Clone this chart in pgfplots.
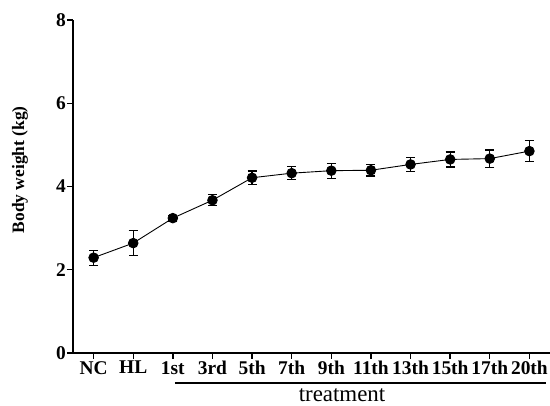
\documentclass[border=0pt]{standalone}
\usepackage{pgfplots}
\pgfplotsset{compat=1.18}
\usepackage{fontspec}
\setmainfont{Liberation Serif}
\begin{document}
\begin{tikzpicture}
\begin{axis}[
  scale only axis,
  width=477bp, height=333bp,
  xmin=-0.52, xmax=11.52,
  ymin=0, ymax=8,
  axis x line*=bottom, axis y line*=left,
  axis line style={line width=1.4bp, -},
  clip=false,
  xtick={0,1,2,3,4,5,6,7,8,9,10,11},
  xticklabels={NC,HL,1st,3rd,5th,7th,9th,11th,13th,15th,17th,20th},
  ytick={0,2,4,6,8},
  tick align=outside,
  major tick length=6bp,
  tick style={line width=1.4bp, black},
  /pgf/number format/assume math mode=true,
  ticklabel style={font=\fontsize{19.5}{22}\selectfont\bfseries},
  xticklabel style={inner sep=1bp, yshift=-1bp},
  yticklabel style={inner sep=1bp},
  xlabel={treatment},
  xlabel style={font=\fontsize{23}{25}\selectfont, inner sep=0pt, at={(axis description cs:0.564,0)}, anchor=base, yshift=-49bp},
  ylabel={Body weight (kg)},
  ylabel style={font=\fontsize{17.5}{20}\selectfont\bfseries, at={(axis description cs:-0.111,0.55)}, anchor=center},
]
\addplot[black, line width=0.9bp, mark=*, mark size=4.8bp,
  error bars/.cd, y dir=both, y explicit,
  error bar style={line width=1.3bp},
  error mark options={rotate=90, mark size=4.5bp, line width=1.3bp}]
coordinates {
(0,2.29) +- (0,0.18)
(1,2.64) +- (0,0.30)
(2,3.24) +- (0,0.07)
(3,3.67) +- (0,0.13)
(4,4.21) +- (0,0.16)
(5,4.32) +- (0,0.16)
(6,4.38) +- (0,0.18)
(7,4.39) +- (0,0.14)
(8,4.53) +- (0,0.17)
(9,4.65) +- (0,0.18)
(10,4.67) +- (0,0.21)
(11,4.85) +- (0,0.25)
};
\draw[line width=2.2bp] ([yshift=-30bp]axis cs:2.05,0) -- ([yshift=-30bp]axis cs:11.42,0);
\end{axis}
\pgfresetboundingbox
\path ([shift={(-73bp,-53bp)}]current axis.south west) rectangle ([shift={(0bp,20bp)}]current axis.north east);
\end{tikzpicture}
\end{document}
